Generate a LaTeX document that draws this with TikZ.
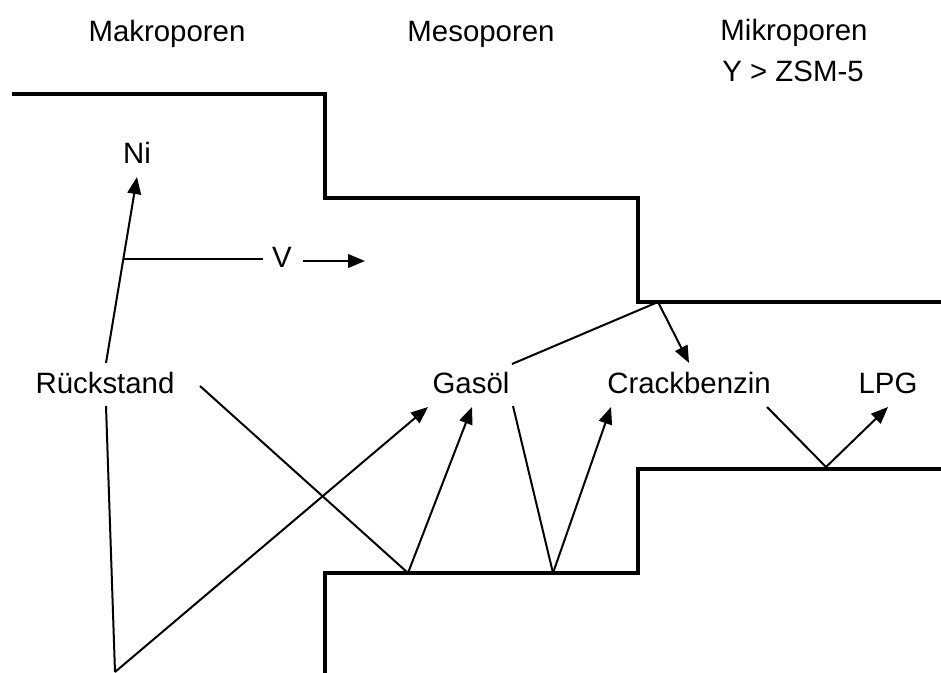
\documentclass[tikz,border=0pt]{standalone}
\usepackage{fontspec}
\setmainfont{Liberation Sans}
\usetikzlibrary{arrows.meta}
\begin{document}
\begin{tikzpicture}[x=0.5pt,y=-0.5pt,
  wall/.style={line width=1.6pt,line join=miter},
  conn/.style={line width=1pt},
  arr/.style={conn,-{Triangle[length=8.5pt,width=6.8pt]}},
  lbl/.style={inner sep=0pt,anchor=base,font=\fontsize{14.7}{17}\selectfont}]
\useasboundingbox (0,0) rectangle (941,673);
% pore walls
\draw[wall] (12,94) -- (325,94) -- (325,198) -- (638,198) -- (638,302) -- (941,302);
\draw[wall] (325,673) -- (325,573) -- (638,573) -- (638,469) -- (941,469);
% labels
\node[lbl] (makro) at (167,42) {Makroporen};
\node[lbl] (meso) at (481,42) {Mesoporen};
\node[lbl] (mikro) at (794,41) {Mikroporen};
\node[lbl] (zsm) at (793,82) {Y > ZSM-5};
\node[lbl] (ni) at (137,164) {Ni};
\node[lbl] (v) at (282,268) {V};
\node[lbl] (rs) at (105,393) {Rückstand};
\node[lbl] (gas) at (471,393) {Gasöl};
\node[lbl] (cb) at (689,393) {Crackbenzin};
\node[lbl] (lpg) at (888,393) {LPG};
% coordinates
\coordinate (rsT) at (106,363);
\coordinate (niT) at (137,177);
\coordinate (vj) at (123.3,259);
\coordinate (vL) at (263,259);
\coordinate (vR1) at (303,261);
\coordinate (vR2) at (365,261);
\coordinate (rsB) at (106,406);
\coordinate (bot) at (115,672);
\coordinate (gasA) at (428,407);
\coordinate (rsR) at (200,386);
\coordinate (p1) at (408,573);
\coordinate (gasB) at (472,407);
\coordinate (gasC) at (513,406);
\coordinate (p2) at (553,573);
\coordinate (cbA) at (611,407);
\coordinate (gasR) at (512,364);
\coordinate (p3) at (658,302);
\coordinate (cbT) at (689,363);
\coordinate (cbR) at (767,407);
\coordinate (p4) at (826,467);
\coordinate (lpgA) at (888,407);
% connectors
\draw[arr] (rsT) -- (niT);
\draw[conn] (vj) -- (vL);
\draw[arr] (vR1) -- (vR2);
\draw[conn] (rsB) -- (bot);
\draw[arr] (bot) -- (gasA);
\draw[conn] (rsR) -- (p1);
\draw[arr] (p1) -- (gasB);
\draw[conn] (gasC) -- (p2);
\draw[arr] (p2) -- (cbA);
\draw[conn] (gasR) -- (p3);
\draw[arr] (p3) -- (cbT);
\draw[conn] (cbR) -- (p4);
\draw[arr] (p4) -- (lpgA);
\end{tikzpicture}
\end{document}
